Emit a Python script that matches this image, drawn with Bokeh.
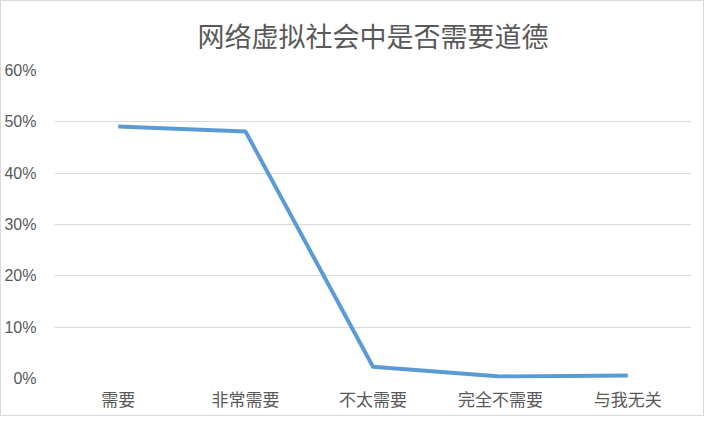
from bokeh.plotting import figure
from bokeh.models import NumeralTickFormatter, FixedTicker, Range1d
from bokeh.embed import file_html
from bokeh.resources import INLINE

# data
categories = ["需要", "非常需要", "不太需要", "完全不需要", "与我无关"]
shares = [0.491, 0.481, 0.023, 0.004, 0.006]
y_ticks = [0, 0.1, 0.2, 0.3, 0.4, 0.5, 0.6]

p = figure(x_range=categories, width=704, height=416,
           output_backend="svg", toolbar_location=None,
           title="网络虚拟社会中是否需要道德",
           min_border_left=50, min_border_right=14,
           min_border_top=0, min_border_bottom=39)
p.styles = {"border": "1px solid #d9d9d9"}

p.y_range = Range1d(0, 0.6)

p.title.align = "center"
p.title.vertical_align = "top"
p.title.standoff = 28
p.title.text_font = "Noto Sans CJK SC"
p.title.text_font_size = "27px"
p.title.text_font_style = "normal"
p.title.text_color = "#595959"

p.line(categories, shares, line_color="#5b9bd5", line_width=4)

p.outline_line_color = None
p.xgrid.grid_line_color = None
p.ygrid.grid_line_color = "#d9d9d9"
p.ygrid.grid_line_width = 1

p.yaxis.ticker = FixedTicker(ticks=y_ticks)
p.yaxis.formatter = NumeralTickFormatter(format="0%")
for ax in (p.xaxis, p.yaxis):
    ax.axis_line_color = None
    ax.major_tick_line_color = None
    ax.minor_tick_line_color = None
    ax.major_label_text_color = "#595959"
p.xaxis.major_label_text_font = "Noto Sans CJK SC"
p.xaxis.major_label_text_font_size = "17px"
p.yaxis.major_label_text_font = "Liberation Sans"
p.yaxis.major_label_text_font_size = "16px"
p.xaxis.major_label_standoff = 1
p.yaxis.major_label_standoff = 12

open("out.html", "w").write(file_html(p, INLINE))
